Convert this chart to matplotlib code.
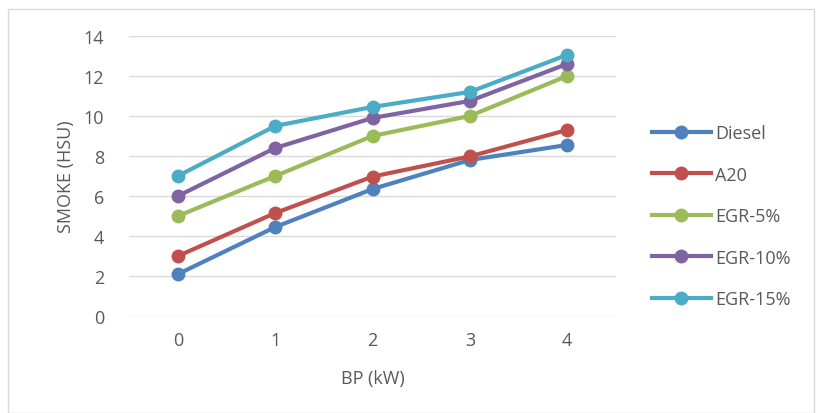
import matplotlib.pyplot as plt
from matplotlib.patches import Rectangle

bp = [0, 1, 2, 3, 4]
diesel = [2.1, 4.45, 6.35, 7.8, 8.55]
a20 = [3.0, 5.15, 6.97, 7.98, 9.3]
egr5 = [5.0, 7.0, 9.0, 10.0, 12.0]
egr10 = [6.0, 8.4, 9.9, 10.75, 12.6]
egr15 = [7.0, 9.5, 10.45, 11.2, 13.05]

series = [
    ("Diesel", diesel, "#4F81BD"),
    ("A20", a20, "#C0504D"),
    ("EGR-5%", egr5, "#9BBB59"),
    ("EGR-10%", egr10, "#8064A2"),
    ("EGR-15%", egr15, "#4BACC6"),
]

plt.rcParams['font.family'] = ['Open Sans', 'DejaVu Sans']
grey = "#595959"

fig = plt.figure(figsize=(8.18, 4.14), dpi=100)
ax = fig.add_axes([0.158, 0.234, 0.595, 0.677])

for name, vals, col in series:
    ax.plot(bp, vals, color=col, lw=3, marker='o', ms=9, label=name)

ax.set_xlim(-0.5, 4.5)
ax.set_ylim(0, 14)
ax.set_yticks(range(0, 15, 2))
ax.set_xticks(bp)
ax.grid(axis='y', color='#d9d9d9', lw=1)
ax.set_axisbelow(True)
for s in ax.spines.values():
    s.set_visible(False)
ax.tick_params(length=0, labelsize=13, colors=grey, pad=18)
ax.tick_params(axis='x', pad=11)
ax.set_xlabel("BP (kW)", fontsize=13, color=grey, labelpad=14)
ax.set_ylabel("SMOKE (HSU)", fontsize=13, color=grey, labelpad=6)

leg = ax.legend(loc='center left', bbox_to_anchor=(1.04, 0.357), frameon=False,
                fontsize=13, handlelength=3.3, labelspacing=1.3,
                handletextpad=0.2)
for t in leg.get_texts():
    t.set_color(grey)

fig.patches.append(Rectangle((0.01, 0.0), 0.985, 0.975, transform=fig.transFigure,
                             fill=False, ec='#d9d9d9', lw=1))

fig.savefig("out.png", dpi=100)
